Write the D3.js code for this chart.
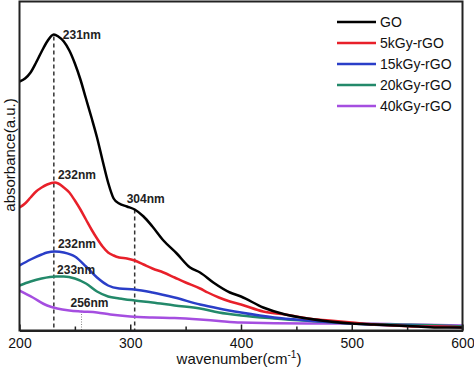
<!DOCTYPE html>
<html>
<head>
<meta charset="utf-8">
<script src="https://cdn.jsdelivr.net/npm/d3@7"></script>
<style>
  body { margin: 0; background: #fff; }
  svg { display: block; font-family: Arial, "Liberation Sans", sans-serif; }
</style>
</head>
<body>
<div id="chart"></div>
<script>
// Series (wavelength in nm, absorbance in a.u.)
const goNm  = [200, 205, 210, 215, 220, 225, 231, 235, 240, 245, 250, 255, 260, 265, 270, 275, 280, 285, 290, 297, 304, 312, 320, 330, 342, 354, 363, 375, 390, 400, 420, 440, 460, 480, 500, 520, 540, 560, 580, 600];
const goAbs = [2.49, 2.52, 2.58, 2.68, 2.79, 2.89, 2.96, 2.94, 2.89, 2.80, 2.67, 2.51, 2.32, 2.13, 1.93, 1.70, 1.48, 1.32, 1.27, 1.24, 1.21, 1.14, 1.04, 0.90, 0.77, 0.63, 0.58, 0.48, 0.38, 0.34, 0.23, 0.16, 0.12, 0.09, 0.07, 0.06, 0.05, 0.04, 0.03, 0.03];

const r5Nm  = [200, 205, 210, 215, 220, 225, 232, 235, 240, 245, 250, 255, 260, 265, 270, 275, 280, 285, 290, 297, 304, 312, 320, 330, 340, 350, 363, 370, 380, 390, 400, 420, 440, 460, 480, 500, 520, 540, 560, 580, 600];
const r5Abs = [1.23, 1.27, 1.33, 1.39, 1.43, 1.46, 1.48, 1.47, 1.43, 1.38, 1.30, 1.21, 1.11, 1.01, 0.92, 0.84, 0.78, 0.75, 0.73, 0.72, 0.70, 0.66, 0.62, 0.58, 0.53, 0.48, 0.42, 0.38, 0.33, 0.29, 0.26, 0.19, 0.16, 0.12, 0.10, 0.08, 0.06, 0.05, 0.04, 0.04, 0.03];

const r15Nm  = [200, 210, 220, 225, 232, 240, 250, 260, 270, 280, 290, 304, 320, 340, 363, 380, 400, 430, 460, 500, 540, 580, 600];
const r15Abs = [0.65, 0.71, 0.76, 0.78, 0.79, 0.78, 0.74, 0.64, 0.53, 0.45, 0.42, 0.41, 0.38, 0.33, 0.26, 0.22, 0.18, 0.13, 0.10, 0.07, 0.05, 0.04, 0.03];

const r20Nm  = [200, 210, 220, 233, 240, 250, 260, 270, 280, 290, 304, 320, 340, 363, 380, 400, 430, 470, 500, 540, 580, 600];
const r20Abs = [0.45, 0.49, 0.52, 0.54, 0.54, 0.52, 0.47, 0.39, 0.34, 0.32, 0.30, 0.28, 0.25, 0.22, 0.18, 0.15, 0.12, 0.09, 0.07, 0.06, 0.05, 0.04];

const r40Nm  = [200, 212, 225, 234, 245, 256, 270, 282, 300, 320, 340, 363, 380, 400, 460, 505, 550, 600];
const r40Abs = [0.40, 0.33, 0.25, 0.22, 0.20, 0.19, 0.18, 0.16, 0.14, 0.13, 0.125, 0.11, 0.095, 0.08, 0.07, 0.07, 0.06, 0.05];

const seriesNames = ["GO", "5kGy-rGO", "15kGy-rGO", "20kGy-rGO", "40kGy-rGO"];
const seriesColors = ["#000000", "#e8202a", "#2a3ec8", "#23896a", "#a54ee0"];

// Peak labels and guide lines
const peakLabels = ["231nm", "232nm", "304nm", "232nm", "233nm", "256nm"];
const peakNm     = [231, 232, 304, 232, 233, 256];
const peakAbs    = [2.96, 1.48, 1.21, 0.79, 0.54, 0.19];
const guideNm    = [231, 304, 256];
const guideAbs   = [2.94, 1.21, 0.19];

const xTicks = [200, 300, 400, 500, 600];
const xMinorTicks = [250, 350, 450, 550];

const width = 474, height = 370;
const mLeft = 19.5, mRight = 462.5, mTop = 1.5, mBottom = 330.5;

const svg = d3.select("#chart").append("svg")
    .attr("width", width)
    .attr("height", height);

const x = d3.scaleLinear().domain([200, 600]).range([mLeft, mRight]);
const y = d3.scaleLinear().domain([0, 3.29]).range([mBottom, mTop]);

// Curvas
const series = [
  { nm: goNm, abs: goAbs },
  { nm: r5Nm, abs: r5Abs },
  { nm: r15Nm, abs: r15Abs },
  { nm: r20Nm, abs: r20Abs },
  { nm: r40Nm, abs: r40Abs }
].map((s, i) => ({
  name: seriesNames[i],
  color: seriesColors[i],
  values: s.nm.map((n, j) => ({ nm: n, abs: s.abs[j] }))
}));

const line = d3.line()
    .x(d => x(d.nm))
    .y(d => y(d.abs))
    .curve(d3.curveMonotoneX);

// Guide lines (drawn under the curves)
guideNm.forEach((n, i) => {
  svg.append("line")
    .attr("x1", x(n)).attr("x2", x(n))
    .attr("y1", y(guideAbs[i])).attr("y2", mBottom)
    .attr("stroke", n === 256 ? "#888" : "#333")
    .attr("stroke-width", n === 256 ? 1 : 1.5)
    .attr("stroke-dasharray", n === 256 ? "1,1.5" : "4,3");
});

// draw from the bottom series up so black stays on top
series.slice().reverse().forEach(s => {
  svg.append("path")
    .datum(s.values)
    .attr("fill", "none")
    .attr("stroke", s.color)
    .attr("stroke-width", 2.5)
    .attr("stroke-linejoin", "round")
    .attr("d", line);
});

// Peak labels
const labelOffsets = [[9, 4], [3, -4], [-8, -7], [3, -4], [1, -3], [-11, -5]];
peakLabels.forEach((t, i) => {
  svg.append("text")
    .attr("x", x(peakNm[i]) + labelOffsets[i][0])
    .attr("y", y(peakAbs[i]) + labelOffsets[i][1])
    .attr("font-size", "12px")
    .attr("font-weight", "bold")
    .attr("fill", "#222")
    .text(t);
});

// Frame
svg.append("rect")
  .attr("x", mLeft).attr("y", mTop)
  .attr("width", mRight - mLeft).attr("height", mBottom - mTop)
  .attr("fill", "none")
  .attr("stroke", "#222")
  .attr("stroke-width", 2);

// Eje X
const xAxis = svg.append("g")
    .attr("transform", `translate(0,${mBottom})`)
    .call(d3.axisBottom(x).tickValues(xTicks).tickSize(-6).tickPadding(8).tickSizeOuter(0));
xAxis.select(".domain").attr("stroke", "#222").attr("stroke-width", 2);
xAxis.selectAll(".tick line").attr("stroke", "#222").attr("stroke-width", 1.5);
xAxis.selectAll("text")
    .attr("font-size", "14px")
    .attr("font-family", "Arial, 'Liberation Sans', sans-serif")
    .attr("fill", "#111");

const xMinor = svg.append("g")
    .attr("transform", `translate(0,${mBottom})`)
    .call(d3.axisBottom(x).tickValues(xMinorTicks).tickSize(-4).tickFormat("").tickSizeOuter(0));
xMinor.select(".domain").remove();
xMinor.selectAll(".tick line").attr("stroke", "#222").attr("stroke-width", 1.5);

// Leyenda
series.forEach((s, i) => {
  const ly = 22 + i * 21;
  svg.append("line")
    .attr("x1", 337).attr("x2", 376)
    .attr("y1", ly).attr("y2", ly)
    .attr("stroke", s.color)
    .attr("stroke-width", 2.5);
  svg.append("text")
    .attr("x", 380)
    .attr("y", ly + 5)
    .attr("font-size", "14px")
    .attr("fill", "#111")
    .text(s.name);
});

// Etiquetas de los ejes
const xl = svg.append("text")
    .attr("x", 239)
    .attr("y", 364)
    .attr("text-anchor", "middle")
    .attr("font-size", "15px")
    .attr("fill", "#111");
xl.append("tspan").text("wavenumber(cm");
xl.append("tspan").attr("font-size", "10px").attr("dy", -6).text("-1");
xl.append("tspan").attr("dy", 6).text(")");

svg.append("text")
    .attr("transform", "translate(15,155) rotate(-90)")
    .attr("text-anchor", "middle")
    .attr("font-size", "15px")
    .attr("fill", "#111")
    .text("absorbance(a.u.)");
</script>
</body>
</html>
